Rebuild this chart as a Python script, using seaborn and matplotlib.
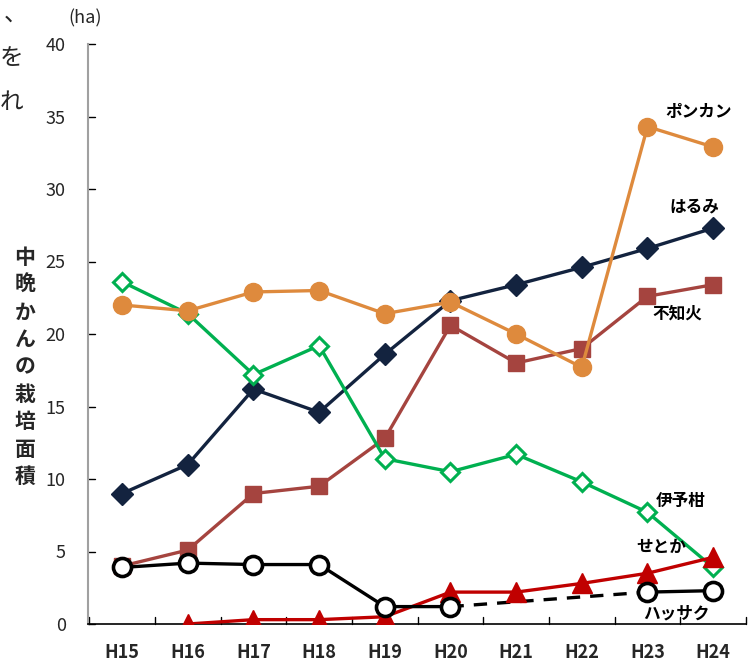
import numpy as np
import matplotlib
matplotlib.use("Agg")
import matplotlib.pyplot as plt
import seaborn as sns

years = ["H15", "H16", "H17", "H18", "H19", "H20", "H21", "H22", "H23", "H24"]
ponkan = [22.0, 21.6, 22.9, 23.0, 21.4, 22.2, 20.0, 17.7, 34.3, 32.9]
harumi = [9.0, 11.0, 16.2, 14.6, 18.6, 22.3, 23.4, 24.6, 25.9, 27.3]
shiranui = [4.0, 5.1, 9.0, 9.5, 12.8, 20.6, 18.0, 19.0, 22.6, 23.4]
iyokan = [23.6, 21.4, 17.2, 19.2, 11.4, 10.5, 11.7, 9.8, 7.7, 3.9]
setoka = [np.nan, 0.0, 0.3, 0.3, 0.5, 2.2, 2.2, 2.8, 3.5, 4.6]
hassaku = [3.9, 4.2, 4.1, 4.1, 1.2, 1.2, np.nan, np.nan, 2.2, 2.3]

sns.set_theme(style="white")
plt.rcParams["font.family"] = ["Noto Sans CJK JP", "DejaVu Sans"]

fig = plt.figure(figsize=(7.53, 6.66), dpi=100)
ax = fig.add_axes([88 / 753, 42 / 666, 658 / 753, 580 / 666])

x = np.arange(len(years))


def draw(vals, color, marker, ms, mfc=None, mew=1.0, lw=2.4, idx=None, ls="-", z=3):
    idx = x if idx is None else np.asarray(idx)
    v = np.asarray(vals, dtype=float)[idx]
    sns.lineplot(x=idx, y=v, ax=ax, color=color, lw=lw, linestyle=ls,
                 marker=marker, markersize=ms, markerfacecolor=mfc or color,
                 markeredgecolor=color, markeredgewidth=mew, zorder=z,
                 estimator=None, sort=False)


draw(harumi, "#13233F", "D", 11, z=3)
draw(shiranui, "#A5443F", "s", 12, z=3)
draw(iyokan, "#00B050", "D", 9, mfc="white", mew=2.2, z=4)
draw(ponkan, "#DE8A3D", "o", 13, z=5)
draw(setoka, "#C00000", "^", 15, idx=range(1, 10), z=6)

# ハッサク: solid where surveyed, dashed across the missing years
sns.lineplot(x=[5, 8], y=[hassaku[5], hassaku[8]], ax=ax, color="black",
             lw=2.4, linestyle=(0, (4, 3)), zorder=5)
draw(hassaku, "black", "o", 13, mfc="white", mew=2.6, idx=range(0, 6), z=7)
draw(hassaku, "black", "o", 13, mfc="white", mew=2.6, idx=[8, 9], z=7)

ax.set_xlim(-0.52, 9.5)
ax.set_ylim(0, 40)
ax.set_yticks(range(0, 41, 5))
ax.set_xticks(x)
ax.set_xticklabels(years, fontsize=13, fontweight="bold")
ax.tick_params(axis="x", length=0, pad=14)
ax.tick_params(axis="y", length=0, labelsize=13, pad=16)
ax.set_xlabel("")
ax.set_ylabel("")

# category boundary ticks on the x axis and inward ticks on the y axis
for b in np.arange(-0.5, 10, 1.0):
    ax.plot([b, b], [0, 0.5], color="black", lw=1, clip_on=False, zorder=1)
for t in range(0, 41, 5):
    ax.plot([-0.52, -0.42], [t, t], color="black", lw=1, clip_on=False, zorder=1)

for s in ["top", "right"]:
    ax.spines[s].set_visible(False)
ax.spines["left"].set_color("#A0A0A0")
ax.spines["left"].set_linewidth(1.5)
ax.spines["bottom"].set_color("black")
ax.spines["bottom"].set_linewidth(1.2)

lab = dict(fontsize=12, fontweight="bold", color="black", zorder=10)
ax.text(8.27, 35.3, "ポンカン", ha="left", va="center", **lab)
ax.text(8.34, 28.8, "はるみ", ha="left", va="center", **lab)
ax.text(8.07, 21.4, "不知火", ha="left", va="center", **lab)
ax.text(8.12, 8.5, "伊予柑", ha="left", va="center", **lab)
ax.text(7.83, 5.3, "せとか", ha="left", va="center", **lab)
ax.text(7.93, 0.75, "ハッサク", ha="left", va="center", **lab)

fig.text(85 / 753, 1 - 18 / 666, "(ha)", fontsize=13, ha="center", va="center")
fig.text(25 / 753, 1 - 367 / 666, "\n".join("中晩かんの栽培面積"),
         fontsize=15, fontweight="bold", ha="center", va="center", linespacing=1.38)
# fragments of the surrounding page text at the left edge
for ch, xx, yy in [("、", 4, 14), ("を", 0, 58), ("れ", 0, 102)]:
    fig.text(xx / 753, 1 - yy / 666, ch, fontsize=17, ha="left", va="center")

fig.savefig("out.png", dpi=100)
